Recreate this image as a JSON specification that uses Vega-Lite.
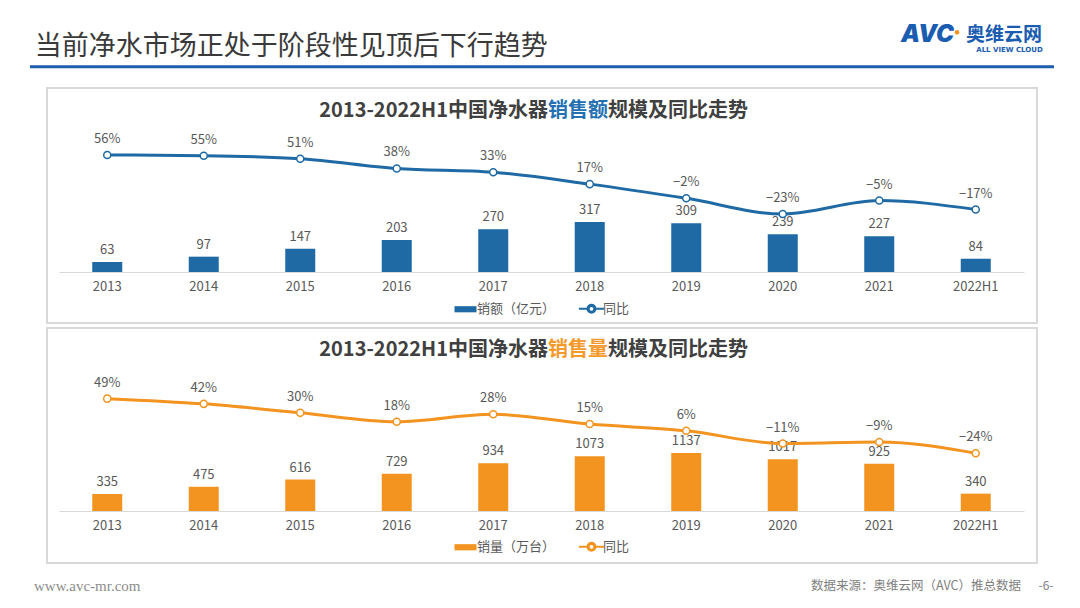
{
  "$schema": "https://vega.github.io/schema/vega-lite/v6.json",
  "background": "white",
  "padding": {"left": 28, "top": 17, "right": 0, "bottom": 0},
  "autosize": {"type": "pad"},
  "spacing": 5,
  "bounds": "flush",
  "config": {
    "font": "Noto Sans CJK SC",
    "view": {"stroke": null},
    "text": {"font": "Noto Sans CJK SC"}
  },
  "datasets": {
    "sales": [
      {"year": "2013", "value": 63, "yoy": 0.56},
      {"year": "2014", "value": 97, "yoy": 0.55},
      {"year": "2015", "value": 147, "yoy": 0.51},
      {"year": "2016", "value": 203, "yoy": 0.38},
      {"year": "2017", "value": 270, "yoy": 0.33},
      {"year": "2018", "value": 317, "yoy": 0.17},
      {"year": "2019", "value": 309, "yoy": -0.02},
      {"year": "2020", "value": 239, "yoy": -0.23},
      {"year": "2021", "value": 227, "yoy": -0.05},
      {"year": "2022H1", "value": 84, "yoy": -0.17}
    ],
    "volume": [
      {"year": "2013", "value": 335, "yoy": 0.49},
      {"year": "2014", "value": 475, "yoy": 0.42},
      {"year": "2015", "value": 616, "yoy": 0.30},
      {"year": "2016", "value": 729, "yoy": 0.18},
      {"year": "2017", "value": 934, "yoy": 0.28},
      {"year": "2018", "value": 1073, "yoy": 0.15},
      {"year": "2019", "value": 1137, "yoy": 0.06},
      {"year": "2020", "value": 1017, "yoy": -0.11},
      {"year": "2021", "value": 925, "yoy": -0.09},
      {"year": "2022H1", "value": 340, "yoy": -0.24}
    ]
  },
  "resolve": {"scale": {"x": "independent", "y": "independent", "color": "independent"}, "legend": {"color": "independent"}},
  "vconcat": [
    {
      "width": 1007,
      "height": 66,
      "layer": [
        {
          "data": {"values": [{"k": "line"}]},
          "mark": {"type": "rule", "strokeWidth": 3, "color": "#1E5EAC"},
          "encoding": {
            "x": {"datum": -17, "type": "quantitative", "scale": {"domain": [0, 1007], "nice": false, "zero": false}, "axis": null},
            "x2": {"datum": 1007},
            "y": {"datum": 16.3, "type": "quantitative", "scale": {"domain": [0, 66], "nice": false, "zero": false}, "axis": null}
          }
        },
        {
          "data": {"values": [{"t": "当前净水市场正处于阶段性见顶后下行趋势"}]},
          "mark": {"type": "text", "align": "left", "baseline": "middle", "fontSize": 27, "color": "#3A3A3A"},
          "encoding": {
            "x": {"datum": -12.3, "type": "quantitative"},
            "y": {"datum": 36, "type": "quantitative"},
            "text": {"field": "t"}
          }
        },
        {
          "data": {"values": [{"t": "AVC"}]},
          "mark": {"type": "text", "align": "right", "baseline": "middle", "fontSize": 24, "fontWeight": 900, "fontStyle": "italic", "font": "Inter", "color": "#1A5CB0"},
          "encoding": {
            "x": {"datum": 907, "type": "quantitative"},
            "y": {"datum": 48, "type": "quantitative"},
            "text": {"field": "t"}
          }
        },
        {
          "data": {"values": [{"t": "dot"}]},
          "mark": {"type": "point", "filled": true, "size": 22, "color": "#F39420", "opacity": 1},
          "encoding": {
            "x": {"datum": 910, "type": "quantitative"},
            "y": {"datum": 50.7, "type": "quantitative"}
          }
        },
        {
          "data": {"values": [{"t": "奥维云网"}]},
          "mark": {"type": "text", "align": "left", "baseline": "middle", "fontSize": 19, "fontWeight": "bold", "color": "#1A5CB0"},
          "encoding": {
            "x": {"datum": 919, "type": "quantitative"},
            "y": {"datum": 48, "type": "quantitative"},
            "text": {"field": "t"}
          }
        },
        {
          "data": {"values": [{"t": "ALL VIEW CLOUD"}]},
          "mark": {"type": "text", "align": "center", "baseline": "middle", "fontSize": 7, "fontWeight": "bold", "font": "DejaVu Sans", "color": "#1A5CB0"},
          "encoding": {
            "x": {"datum": 962.5, "type": "quantitative"},
            "y": {"datum": 33.3, "type": "quantitative"},
            "text": {"field": "t"}
          }
        }
      ]
    },
    {
      "width": 990,
      "height": 235,
      "view": {"stroke": "#D9D9D9", "strokeWidth": 2},
      "data": {"name": "sales"},
      "encoding": {
        "x": {
          "field": "year", "type": "nominal", "sort": null,
          "scale": {"domain": ["2013","2014","2015","2016","2017","2018","2019","2020","2021","2022H1"], "range": [12, 977], "paddingInner": 0.689, "paddingOuter": 0.3445},
          "axis": {"orient": "bottom", "offset": -51, "title": null, "ticks": false, "domainColor": "#D9D9D9", "domainWidth": 1, "labelColor": "#595959", "labelFontSize": 13, "labelPadding": 8, "labelAngle": 0, "grid": false}
        }
      },
      "layer": [
        {
          "layer": [
            {
              "mark": {"type": "bar"},
              "encoding": {
                "y": {"field": "value", "type": "quantitative", "scale": {"domain": [-322.8, 1164.6], "nice": false, "zero": false}, "axis": null},
                "color": {
                  "datum": "销额（亿元）",
                  "scale": {"domain": ["销额（亿元）", "同比"], "range": ["#1F6AA5", "#1F6AA5"]},
                  "legend": {
                    "orient": "none", "legendX": 412, "legendY": 214, "direction": "horizontal", "title": null,
                    "labelFontSize": 13, "labelColor": "#595959", "labelFont": "Noto Sans CJK SC", "labelOffset": 5,
                    "columnPadding": 18, "symbolSize": 484, "padding": 0,
                    "encode": {"symbols": {"update": {
                      "shape": {"signal": "datum.value === '同比' ? 'M-1.15,0H-0.36M0.36,0H1.15M0.36,0A0.36,0.36,0,1,1,-0.36,0A0.36,0.36,0,1,1,0.36,0ZM0.26,0A0.26,0.26,0,1,0,-0.26,0A0.26,0.26,0,1,0,0.26,0Z' : 'M-1,-0.28H1V0.28H-1Z'"},
                      "fill": {"value": "#1F6AA5"},
                      "stroke": {"value": "#1F6AA5"},
                      "strokeWidth": {"signal": "datum.value === '同比' ? 2 : 0"},
                      "opacity": {"value": 1}
                    }}}
                  }
                }
              }
            },
            {
              "mark": {"type": "text", "baseline": "alphabetic", "dy": -8, "fontSize": 13, "color": "#595959"},
              "encoding": {
                "y": {"field": "value", "type": "quantitative", "scale": {"domain": [-322.8, 1164.6], "nice": false, "zero": false}, "axis": null},
                "text": {"field": "value", "type": "quantitative"}
              }
            },
            {
              "data": {"values": [{"t": "2013-2022H1中国净水器"}]},
              "mark": {"type": "text", "align": "right", "baseline": "middle", "dx": -41.75, "fontSize": 20, "fontWeight": "bold", "color": "#404040"},
              "encoding": {
                "x": {"datum": "2018"},
                "y": {"datum": 1020, "type": "quantitative", "scale": {"domain": [-322.8, 1164.6], "nice": false, "zero": false}, "axis": null},
                "text": {"field": "t"}
              }
            },
            {
              "data": {"values": [{"t": "销售额"}]},
              "mark": {"type": "text", "align": "center", "baseline": "middle", "dx": -11.75, "fontSize": 20, "fontWeight": "bold", "color": "#2470B3"},
              "encoding": {
                "x": {"datum": "2018"},
                "y": {"datum": 1020, "type": "quantitative", "scale": {"domain": [-322.8, 1164.6], "nice": false, "zero": false}, "axis": null},
                "text": {"field": "t"}
              }
            },
            {
              "data": {"values": [{"t": "规模及同比走势"}]},
              "mark": {"type": "text", "align": "left", "baseline": "middle", "dx": 18.25, "fontSize": 20, "fontWeight": "bold", "color": "#404040"},
              "encoding": {
                "x": {"datum": "2018"},
                "y": {"datum": 1020, "type": "quantitative", "scale": {"domain": [-322.8, 1164.6], "nice": false, "zero": false}, "axis": null},
                "text": {"field": "t"}
              }
            }
          ]
        },
        {
          "layer": [
            {
              "mark": {"type": "line", "strokeWidth": 3, "interpolate": "monotone"},
              "encoding": {
                "y": {"field": "yoy", "type": "quantitative", "scale": {"domain": [-1.689, 1.457], "nice": false, "zero": false}, "axis": null},
                "color": {"datum": "同比"}
              }
            },
            {
              "mark": {"type": "point", "filled": true, "fill": "white", "stroke": "#1F6AA5", "strokeWidth": 1.5, "size": 50, "opacity": 1},
              "encoding": {
                "y": {"field": "yoy", "type": "quantitative", "scale": {"domain": [-1.689, 1.457], "nice": false, "zero": false}, "axis": null}
              }
            },
            {
              "mark": {"type": "text", "baseline": "alphabetic", "dy": -12, "fontSize": 13, "color": "#595959"},
              "encoding": {
                "y": {"field": "yoy", "type": "quantitative", "scale": {"domain": [-1.689, 1.457], "nice": false, "zero": false}, "axis": null},
                "text": {"field": "yoy", "type": "quantitative", "format": ".0%"}
              }
            }
          ]
        }
      ],
      "resolve": {"scale": {"y": "independent"}}
    },
    {
      "width": 990,
      "height": 235,
      "view": {"stroke": "#D9D9D9", "strokeWidth": 2},
      "data": {"name": "volume"},
      "encoding": {
        "x": {
          "field": "year", "type": "nominal", "sort": null,
          "scale": {"domain": ["2013","2014","2015","2016","2017","2018","2019","2020","2021","2022H1"], "range": [12, 977], "paddingInner": 0.689, "paddingOuter": 0.3445},
          "axis": {"orient": "bottom", "offset": -52, "title": null, "ticks": false, "domainColor": "#D9D9D9", "domainWidth": 1, "labelColor": "#595959", "labelFontSize": 13, "labelPadding": 8, "labelAngle": 0, "grid": false}
        }
      },
      "layer": [
        {
          "layer": [
            {
              "mark": {"type": "bar"},
              "encoding": {
                "y": {"field": "value", "type": "quantitative", "scale": {"domain": [-1019.6, 3588], "nice": false, "zero": false}, "axis": null},
                "color": {
                  "datum": "销量（万台）",
                  "scale": {"domain": ["销量（万台）", "同比"], "range": ["#F39420", "#F39420"]},
                  "legend": {
                    "orient": "none", "legendX": 412, "legendY": 212, "direction": "horizontal", "title": null,
                    "labelFontSize": 13, "labelColor": "#595959", "labelFont": "Noto Sans CJK SC", "labelOffset": 5,
                    "columnPadding": 18, "symbolSize": 484, "padding": 0,
                    "encode": {"symbols": {"update": {
                      "shape": {"signal": "datum.value === '同比' ? 'M-1.15,0H-0.36M0.36,0H1.15M0.36,0A0.36,0.36,0,1,1,-0.36,0A0.36,0.36,0,1,1,0.36,0ZM0.26,0A0.26,0.26,0,1,0,-0.26,0A0.26,0.26,0,1,0,0.26,0Z' : 'M-1,-0.28H1V0.28H-1Z'"},
                      "fill": {"value": "#F39420"},
                      "stroke": {"value": "#F39420"},
                      "strokeWidth": {"signal": "datum.value === '同比' ? 2 : 0"},
                      "opacity": {"value": 1}
                    }}}
                  }
                }
              }
            },
            {
              "mark": {"type": "text", "baseline": "alphabetic", "dy": -8, "fontSize": 13, "color": "#595959"},
              "encoding": {
                "y": {"field": "value", "type": "quantitative", "scale": {"domain": [-1019.6, 3588], "nice": false, "zero": false}, "axis": null},
                "text": {"field": "value", "type": "quantitative"}
              }
            },
            {
              "data": {"values": [{"t": "2013-2022H1中国净水器"}]},
              "mark": {"type": "text", "align": "right", "baseline": "middle", "dx": -41.75, "fontSize": 20, "fontWeight": "bold", "color": "#404040"},
              "encoding": {
                "x": {"datum": "2018"},
                "y": {"datum": 3150, "type": "quantitative", "scale": {"domain": [-1019.6, 3588], "nice": false, "zero": false}, "axis": null},
                "text": {"field": "t"}
              }
            },
            {
              "data": {"values": [{"t": "销售量"}]},
              "mark": {"type": "text", "align": "center", "baseline": "middle", "dx": -11.75, "fontSize": 20, "fontWeight": "bold", "color": "#F39A2B"},
              "encoding": {
                "x": {"datum": "2018"},
                "y": {"datum": 3150, "type": "quantitative", "scale": {"domain": [-1019.6, 3588], "nice": false, "zero": false}, "axis": null},
                "text": {"field": "t"}
              }
            },
            {
              "data": {"values": [{"t": "规模及同比走势"}]},
              "mark": {"type": "text", "align": "left", "baseline": "middle", "dx": 18.25, "fontSize": 20, "fontWeight": "bold", "color": "#404040"},
              "encoding": {
                "x": {"datum": "2018"},
                "y": {"datum": 3150, "type": "quantitative", "scale": {"domain": [-1019.6, 3588], "nice": false, "zero": false}, "axis": null},
                "text": {"field": "t"}
              }
            }
          ]
        },
        {
          "layer": [
            {
              "mark": {"type": "line", "strokeWidth": 3, "interpolate": "monotone"},
              "encoding": {
                "y": {"field": "yoy", "type": "quantitative", "scale": {"domain": [-1.707, 1.434], "nice": false, "zero": false}, "axis": null},
                "color": {"datum": "同比"}
              }
            },
            {
              "mark": {"type": "point", "filled": true, "fill": "white", "stroke": "#F39420", "strokeWidth": 1.5, "size": 50, "opacity": 1},
              "encoding": {
                "y": {"field": "yoy", "type": "quantitative", "scale": {"domain": [-1.707, 1.434], "nice": false, "zero": false}, "axis": null}
              }
            },
            {
              "mark": {"type": "text", "baseline": "alphabetic", "dy": -12, "fontSize": 13, "color": "#595959"},
              "encoding": {
                "y": {"field": "yoy", "type": "quantitative", "scale": {"domain": [-1.707, 1.434], "nice": false, "zero": false}, "axis": null},
                "text": {"field": "yoy", "type": "quantitative", "format": ".0%"}
              }
            }
          ]
        }
      ],
      "resolve": {"scale": {"y": "independent"}}
    },
    {
      "width": 1007,
      "height": 32,
      "layer": [
        {
          "data": {"values": [{"t": "www.avc-mr.com"}]},
          "mark": {"type": "text", "align": "left", "baseline": "middle", "fontSize": 15, "font": "Liberation Serif", "color": "#8C8C8C"},
          "encoding": {
            "x": {"datum": -13, "type": "quantitative", "scale": {"domain": [0, 1007], "nice": false, "zero": false}, "axis": null},
            "y": {"datum": 14, "type": "quantitative", "scale": {"domain": [0, 32], "nice": false, "zero": false}, "axis": null},
            "text": {"field": "t"}
          }
        },
        {
          "data": {"values": [{"t": "数据来源：奥维云网（AVC）推总数据"}]},
          "mark": {"type": "text", "align": "right", "baseline": "middle", "fontSize": 12.5, "color": "#808080"},
          "encoding": {
            "x": {"datum": 974, "type": "quantitative"},
            "y": {"datum": 14, "type": "quantitative"},
            "text": {"field": "t"}
          }
        },
        {
          "data": {"values": [{"t": "-6-"}]},
          "mark": {"type": "text", "align": "center", "baseline": "middle", "fontSize": 12, "color": "#808080"},
          "encoding": {
            "x": {"datum": 999, "type": "quantitative"},
            "y": {"datum": 14, "type": "quantitative"},
            "text": {"field": "t"}
          }
        }
      ]
    }
  ]
}
